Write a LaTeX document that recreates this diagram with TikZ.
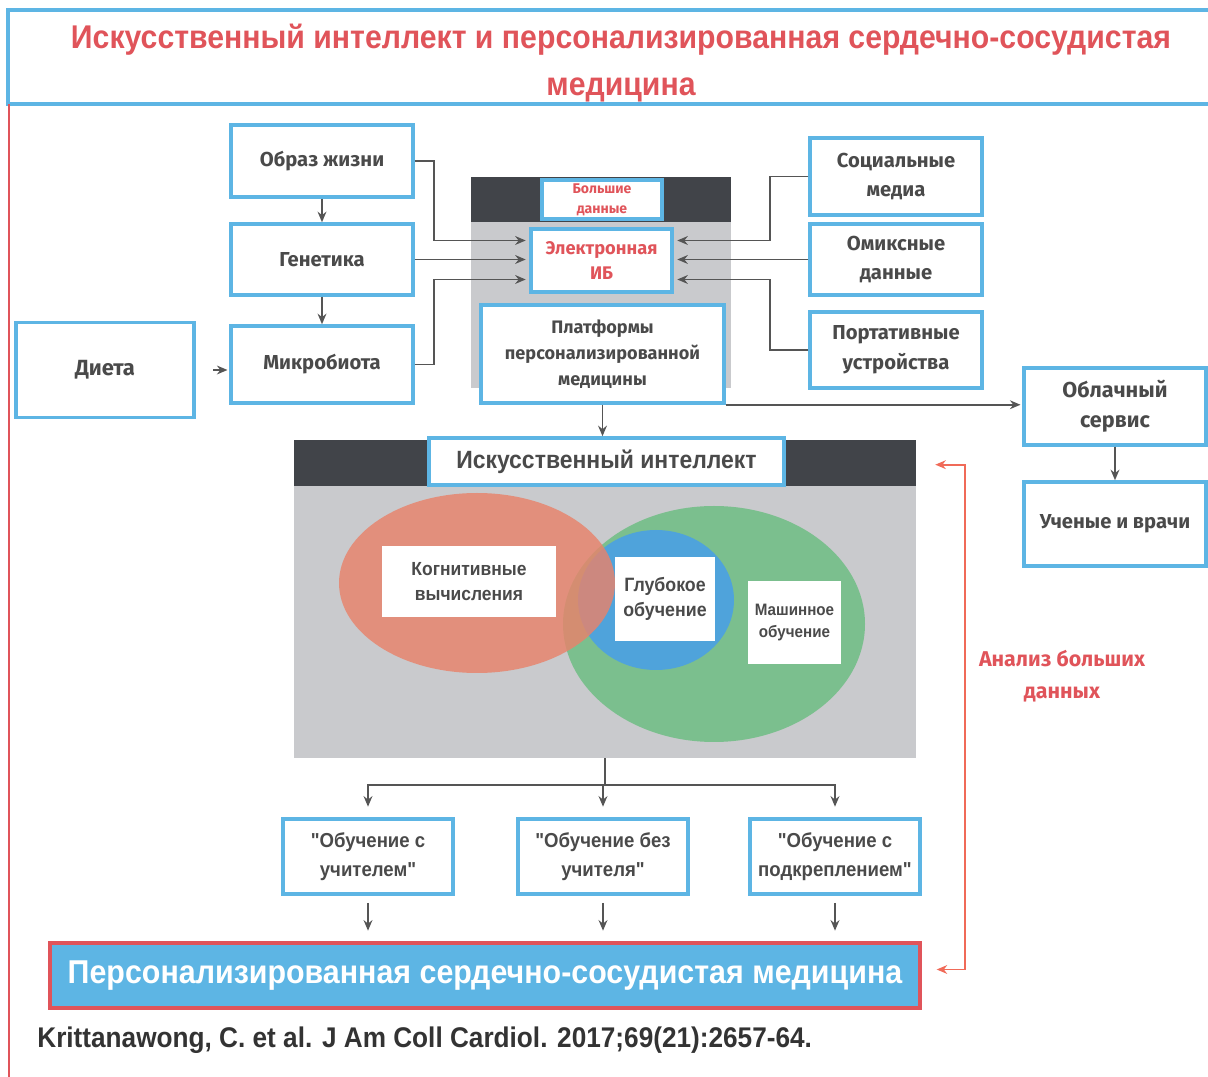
\documentclass[tikz,border=0pt]{standalone}
\usepackage{fontspec}
\setmainfont{Fira Sans}
\newfontfamily\condfont[FakeStretch=0.92,UprightFont={* Bold}]{Liberation Sans}
\usetikzlibrary{calc,arrows.meta}
\definecolor{boxblue}{HTML}{5DB5E4}
\definecolor{titlered}{HTML}{E0545A}
\definecolor{txtgray}{HTML}{4A4A4A}
\definecolor{lngray}{HTML}{555555}
\definecolor{darkbar}{HTML}{414449}
\definecolor{panelgray}{HTML}{C9CACD}
\definecolor{fbred}{HTML}{F06A58}
\definecolor{vennred}{HTML}{E8836B}
\definecolor{venngreen}{HTML}{7BBF8E}
\definecolor{vennblue}{HTML}{4FA3DB}

\begin{document}
\begin{tikzpicture}[x=0.02cm,y=-0.02cm,
    box/.style={draw=boxblue,line width=2pt,fill=white,align=center,text=txtgray,inner sep=0pt,
      font=\bfseries\fontsize{11.5}{17}\selectfont},
    tag/.style={fill=white,align=center,text=txtgray,inner sep=0pt,
      font=\condfont\fontsize{10.8}{14.7}\selectfont},
    learn/.style={box,font=\condfont\fontsize{11.5}{16.5}\selectfont,
      minimum width=3.4cm,minimum height=1.5cm},
    conn/.style={draw=lngray,line width=1.1pt,-{Stealth[length=6pt,width=5pt]}},
    fb/.style={draw=fbred,line width=1.1pt,{Stealth[length=6pt,width=5pt]}-{Stealth[length=6pt,width=5pt]}}]
  \clip (0,0) rectangle (1208,1077);

  % title
  \node[draw=boxblue,line width=2.2pt,minimum width=24.52cm,minimum height=1.88cm,inner sep=0pt,
    align=center,text=titlered,font=\condfont\fontsize{18.7}{26.6}\selectfont]
    (title) at (621,57) {\rule{0pt}{21pt}Искусственный интеллект и персонализированная сердечно-сосудистая\\медицина};
  \draw[titlered,line width=1.2pt] (9,104) -- (9,1080);

  % big data panel
  \node[fill=panelgray,minimum width=5.2cm,minimum height=4.22cm,inner sep=0pt] (bigdata) at (601,282.5) {};
  \fill[darkbar] (bigdata.north west) rectangle ($(bigdata.north east)+(0,45)$);
  \node[box,text=titlered,minimum width=2.4cm,minimum height=0.78cm,
    font=\bfseries\fontsize{8}{11.3}\selectfont] (bd) at (602,199.5) {Большие\\данные};
  \node[box,text=titlered,minimum width=2.82cm,minimum height=1.26cm,
    font=\bfseries\fontsize{10.4}{14}\selectfont] (ehr) at (601.5,260.5) {Электронная\\ИБ};
  \node[box,minimum width=4.86cm,minimum height=1.96cm,
    font=\bfseries\fontsize{10.3}{14.7}\selectfont] (plat) at (602.5,354) {Платформы\\персонализированной\\медицины};

  % sources left
  \node[box,minimum width=3.64cm,minimum height=1.44cm] (life) at (322,161) {Образ жизни};
  \node[box,minimum width=3.64cm,minimum height=1.42cm] (gen) at (322,259.5) {Генетика};
  \node[box,minimum width=3.64cm,minimum height=1.54cm] (micro) at (322,364.5) {Микробиота};
  \node[box,minimum width=3.56cm,minimum height=1.9cm,font=\bfseries\fontsize{12.5}{17}\selectfont]
    (diet) at (105,370) {Диета};

  % sources right
  \node[box,minimum width=3.44cm,minimum height=1.54cm] (social) at (896,176.5) {Социальные\\медиа};
  \node[box,minimum width=3.44cm,minimum height=1.42cm] (omics) at (896,259.5) {Омиксные\\данные};
  \node[box,minimum width=3.44cm,minimum height=1.52cm] (wear) at (896,350) {Портативные\\устройства};

  % cloud
  \node[box,minimum width=3.64cm,minimum height=1.54cm,font=\bfseries\fontsize{12.3}{17}\selectfont]
    (cloud) at (1115,406.5) {Облачный\\сервис};
  \node[box,minimum width=3.64cm,minimum height=1.68cm] (sci) at (1115,524) {Ученые и врачи};

  % AI panel
  \node[fill=panelgray,minimum width=12.44cm,minimum height=6.36cm,inner sep=0pt] (ai) at (605,599) {};
  \fill[darkbar] (ai.north west) rectangle ($(ai.north east)+(0,46)$);
  \node[box,minimum width=7.1cm,minimum height=0.94cm,font=\condfont\fontsize{14.2}{16}\selectfont]
    (aititle) at (606.5,461.5) {Искусственный интеллект};
  \fill[venngreen] (714,624) ellipse [x radius=151,y radius=118];
  \fill[vennblue] (656,600) ellipse [x radius=78,y radius=70];
  \fill[vennred,opacity=0.82] (477,583) ellipse [x radius=138,y radius=90];
  \node[tag,minimum width=3.48cm,minimum height=1.42cm] (cog) at (469,581.5) {Когнитивные\\вычисления};
  \node[tag,minimum width=2cm,minimum height=1.68cm,font=\condfont\fontsize{11}{14.7}\selectfont]
    (deep) at (665,599) {Глубокое\\обучение};
  \node[tag,minimum width=1.86cm,minimum height=1.66cm,font=\condfont\fontsize{9.4}{13}\selectfont]
    (ml) at (794.5,622.5) {Машинное\\обучение};

  % learning types
  \node[learn] (sup) at (368,856.5) {"Обучение с\\учителем"};
  \node[learn] (unsup) at (603,856.5) {"Обучение без\\учителя"};
  \node[learn] (reinf) at (835,856.5) {"Обучение с\\подкреплением"};
  \node[draw=titlered,line width=2pt,fill=boxblue,minimum width=17.4cm,minimum height=1.3cm,inner sep=0pt,
    text=white,font=\condfont\fontsize{18.8}{20}\selectfont]
    (final) at (485,975.5) {Персонализированная сердечно-сосудистая медицина};

  \node[text=titlered,align=center,font=\bfseries\fontsize{12.2}{18}\selectfont] (bdlabel) at (1062,676)
    {Анализ больших\\данных};
  \node[anchor=west,text=black!80,inner sep=0pt,font=\condfont\fontsize{16.2}{18}\selectfont]
    (cite) at (37,1040) {Krittanawong, C. et al. J Am Coll Cardiol. 2017;69(21):2657-64.};

  % connectors
  \draw[conn] (life.south) -- (gen.north);
  \draw[conn] (gen.south) -- (micro.north);
  \draw[conn,shorten <=10pt,shorten >=1pt] (diet.east) -- (diet.east -| micro.west);
  \draw[conn,shorten >=2pt] (life.east) -- ++(19,0) |- ($(ehr.west)+(0,-20)$);
  \draw[conn,shorten >=2pt] (gen.east) -- (gen.east -| ehr.west);
  \draw[conn,shorten >=2pt] (micro.east) -- ++(19,0) |- ($(ehr.west)+(0,19)$);
  \draw[conn,shorten >=2pt] (social.west) -- ++(-38,0) |- ($(ehr.east)+(0,-20)$);
  \draw[conn,shorten >=2pt] (omics.west) -- (omics.west -| ehr.east);
  \draw[conn,shorten >=2pt] (wear.west) -- ++(-38,0) |- ($(ehr.east)+(0,19)$);
  \draw[conn] (plat.south) -- (plat.south |- aititle.north);
  \draw[conn,shorten >=1pt] (plat.south east) -- (plat.south east -| cloud.west);
  \draw[conn] (cloud.south) -- (sci.north);
  \draw[lngray,line width=1.1pt] (ai.south) -- ++(0,27) coordinate (fork);
  \draw[conn,shorten >=6pt] (fork) -| (sup.north);
  \draw[conn,shorten >=6pt] (fork) -| (reinf.north);
  \draw[conn,shorten >=6pt] (fork) -- (fork -| unsup.north) -- (unsup.north);
  \foreach \n in {sup,unsup,reinf}
    \draw[conn,shorten <=4pt,shorten >=6pt] (\n.south) -- (\n.south |- final.north);
  \draw[fb] ($(ai.north east)+(19,25)$) -- ++(30,0) |- ($(final.east)+(15,-6)$);
\end{tikzpicture}
\end{document}
